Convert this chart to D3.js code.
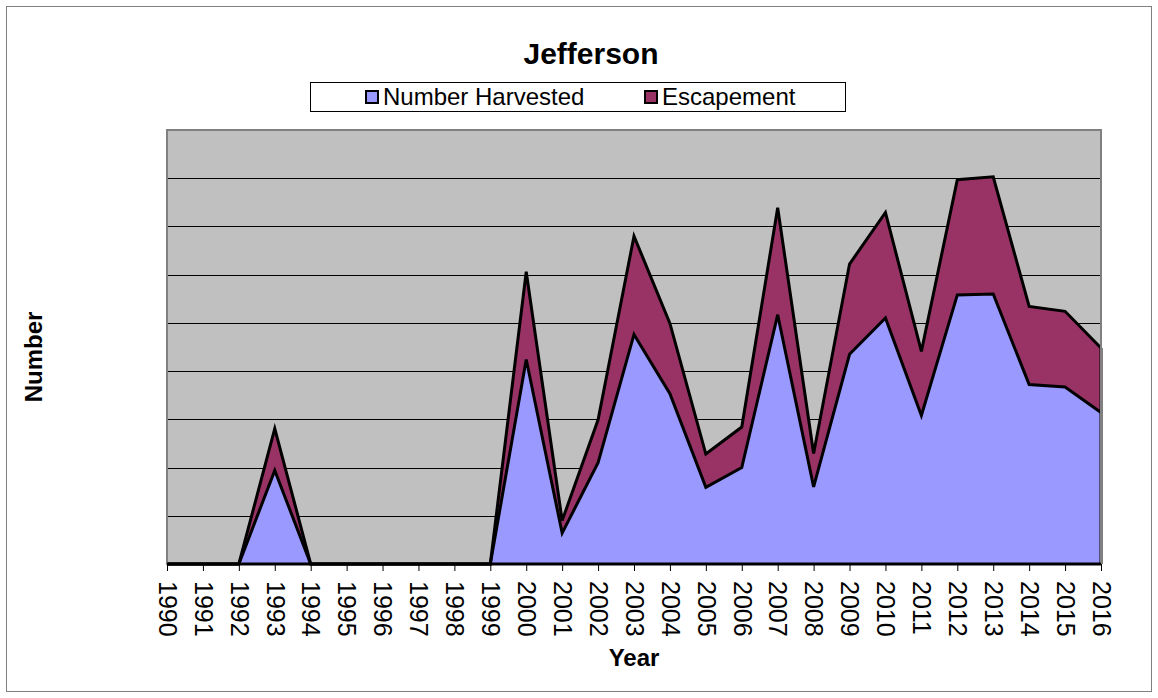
<!DOCTYPE html>
<html>
<head>
<meta charset="utf-8">
<script src="https://cdn.jsdelivr.net/npm/d3@7"></script>
<style>
  html, body { margin: 0; padding: 0; background: #fff; }
  svg { display: block; font-family: Arial, "Liberation Sans", sans-serif; }
</style>
</head>
<body>
<svg id="chart" width="1158" height="698"></svg>
<script>
// Yearly counts for Jefferson
const years = [1990, 1991, 1992, 1993, 1994, 1995, 1996, 1997, 1998, 1999,
  2000, 2001, 2002, 2003, 2004, 2005, 2006, 2007, 2008, 2009,
  2010, 2011, 2012, 2013, 2014, 2015, 2016];
const harvested = [0, 0, 0, 194, 0, 0, 0, 0, 0, 0,
  424, 64, 210, 476, 353, 159, 200, 517, 160, 435,
  510, 308, 558, 560, 372, 367, 314];
const escapement = [0, 0, 0, 87, 0, 0, 0, 0, 0, 0,
  182, 26, 89, 204, 146, 69, 84, 222, 69, 187,
  219, 133, 239, 243, 162, 157, 134];
const seriesNames = ["Number Harvested", "Escapement"];
const seriesColors = ["#9999FF", "#993366"];
const yMax = 900;
const gridStep = 100;

const svg = d3.select("#chart");
const W = 1158, H = 698;
const plot = { left: 167, right: 1101, top: 130, bottom: 564 };

// outer frame
svg.append("rect").attr("x", 6.5).attr("y", 6.5).attr("width", W - 13).attr("height", H - 13)
  .attr("fill", "#fff").attr("stroke", "#808080").attr("stroke-width", 1);

const x = d3.scalePoint().domain(years).range([plot.left, plot.right]);
const y = d3.scaleLinear().domain([0, yMax]).range([plot.bottom, plot.top]);

// plot background
svg.append("rect").attr("x", plot.left).attr("y", plot.top)
  .attr("width", plot.right - plot.left).attr("height", plot.bottom - plot.top)
  .attr("fill", "#C0C0C0");

// horizontal gridlines
const gridVals = d3.range(gridStep, yMax + 1, gridStep);
svg.append("g").selectAll("line").data(gridVals).join("line")
  .attr("x1", plot.left).attr("x2", plot.right)
  .attr("y1", d => Math.round(y(d)) + 0.5).attr("y2", d => Math.round(y(d)) + 0.5)
  .attr("stroke", "#000").attr("stroke-width", 1);

// stacked areas
const rows = years.map((yr, i) => ({ year: yr, h: harvested[i], e: escapement[i] }));
const stack = d3.stack().keys(["h", "e"]);
const layers = stack(rows);

const area = d3.area()
  .x(d => x(d.data.year))
  .y0(d => y(d[0]))
  .y1(d => y(d[1]));
const topLine = d3.line()
  .x(d => x(d.data.year))
  .y(d => y(d[1]));

const gArea = svg.append("g");
layers.forEach((layer, i) => {
  gArea.append("path").datum(layer).attr("d", area)
    .attr("fill", seriesColors[i]).attr("stroke", "none");
});
layers.forEach((layer) => {
  gArea.append("path").datum(layer).attr("d", topLine)
    .attr("fill", "none").attr("stroke", "#000").attr("stroke-width", 3)
    .attr("stroke-linejoin", "miter");
});
// right edge of the stacked areas
const last = layers[1][layers[1].length - 1];
gArea.append("line")
  .attr("x1", x(years[years.length - 1])).attr("x2", x(years[years.length - 1]))
  .attr("y1", y(0)).attr("y2", y(last[1]))
  .attr("stroke", "#000").attr("stroke-width", 3);

// plot border
svg.append("rect").attr("x", plot.left).attr("y", plot.top)
  .attr("width", plot.right - plot.left).attr("height", plot.bottom - plot.top)
  .attr("fill", "none").attr("stroke", "#808080").attr("stroke-width", 2);

// x axis
const xAxis = d3.axisBottom(x).tickSize(7).tickPadding(8);
const gx = svg.append("g").attr("transform", `translate(0,${plot.bottom})`).call(xAxis);
gx.select(".domain").attr("stroke", "#000").attr("stroke-width", 3)
  .attr("d", `M${plot.left},0H${plot.right}`);
gx.selectAll(".tick line").attr("stroke", "#000").attr("stroke-width", 1);
gx.selectAll(".tick text")
  .attr("font-size", 25).attr("font-family", "Arial, 'Liberation Sans', sans-serif")
  .attr("fill", "#000")
  .attr("transform", "rotate(90)")
  .attr("x", 17).attr("y", 0).attr("dy", "0.35em")
  .attr("text-anchor", "start");

// title
svg.append("text").attr("x", 591).attr("y", 64).attr("text-anchor", "middle")
  .attr("font-size", 30).attr("font-weight", "bold").attr("fill", "#000").text("Jefferson");

// axis titles
svg.append("text").attr("x", 634).attr("y", 666).attr("text-anchor", "middle")
  .attr("font-size", 24).attr("font-weight", "bold").attr("fill", "#000").text("Year");
svg.append("text").attr("transform", "translate(42,357) rotate(-90)").attr("text-anchor", "middle")
  .attr("font-size", 24).attr("font-weight", "bold").attr("fill", "#000").text("Number");

// legend
const legend = svg.append("g");
legend.append("rect").attr("x", 310.5).attr("y", 82.5).attr("width", 535).attr("height", 29)
  .attr("fill", "#fff").attr("stroke", "#000").attr("stroke-width", 1);
const legendItems = [
  { name: seriesNames[0], color: seriesColors[0], sx: 366, tx: 383 },
  { name: seriesNames[1], color: seriesColors[1], sx: 645, tx: 662 }
];
legendItems.forEach(it => {
  legend.append("rect").attr("x", it.sx).attr("y", 91).attr("width", 12).attr("height", 12)
    .attr("fill", it.color).attr("stroke", "#000").attr("stroke-width", 2);
  legend.append("text").attr("x", it.tx).attr("y", 105)
    .attr("font-size", 24).attr("fill", "#000").text(it.name);
});
</script>
</body>
</html>
